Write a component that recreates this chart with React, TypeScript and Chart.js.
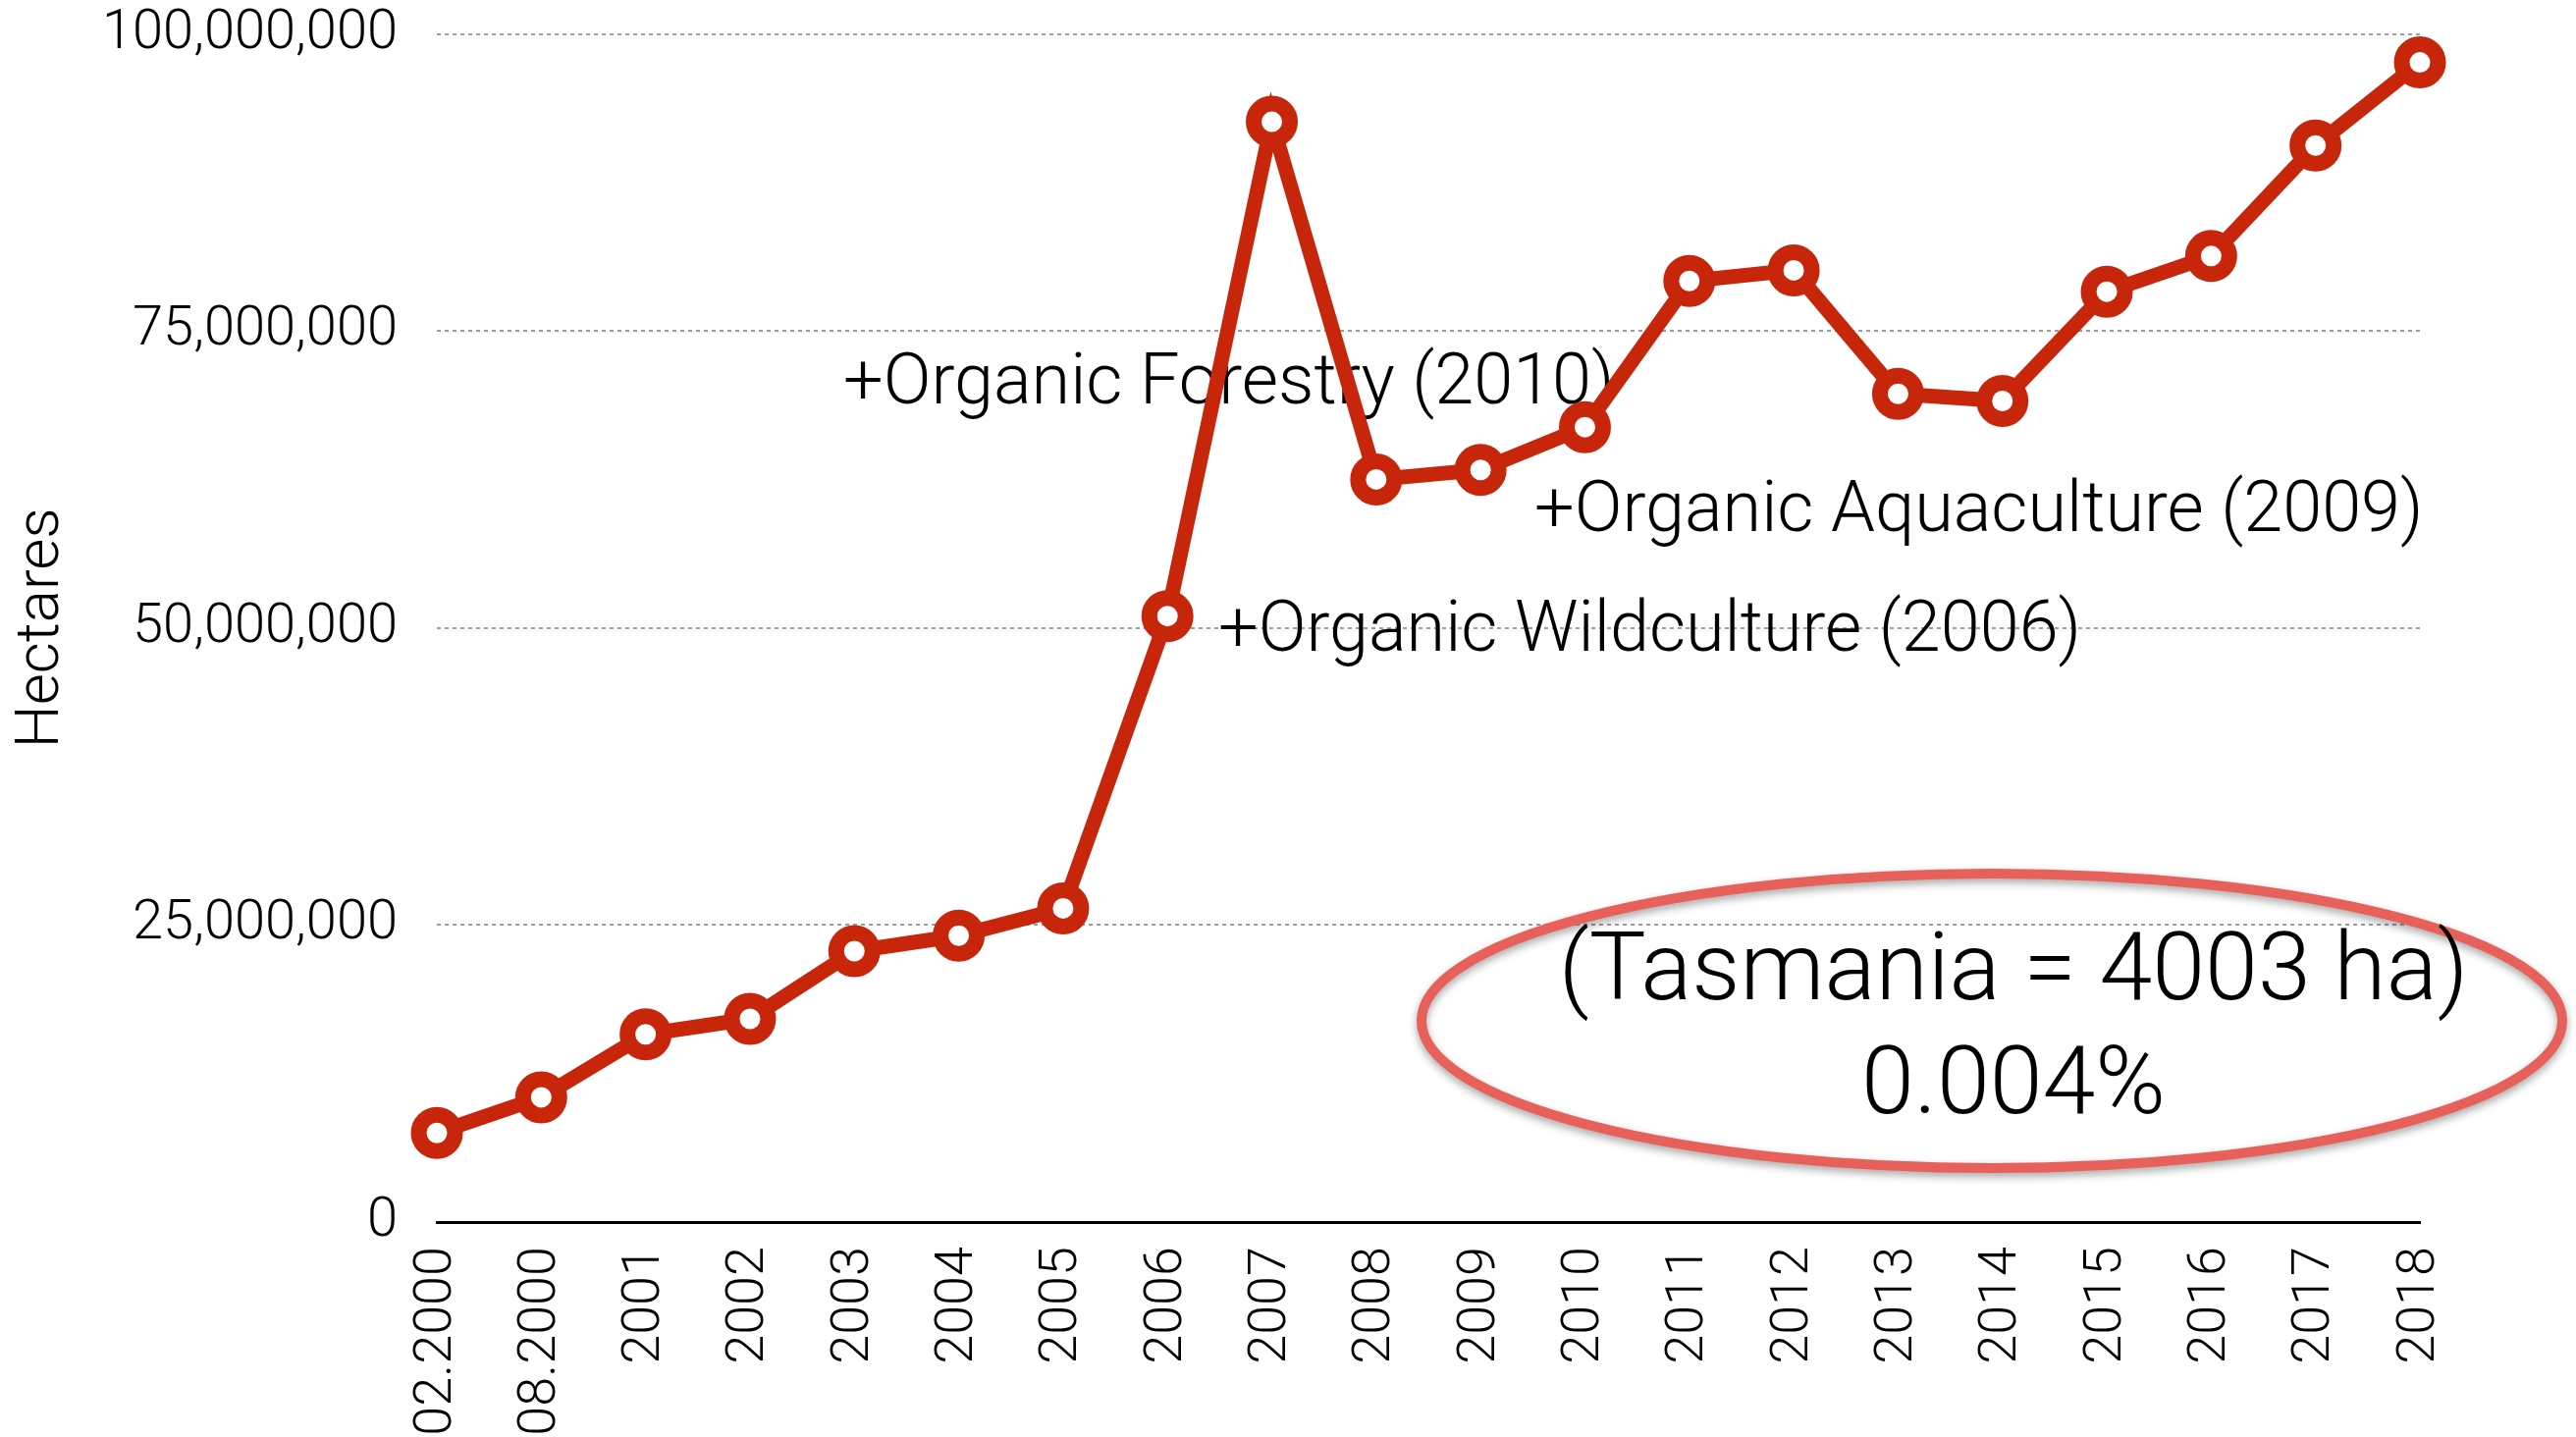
import React, { useEffect, useRef } from "react";
import { Chart, registerables } from "chart.js";

Chart.register(...registerables);

const categories = [
  "02.2000", "08.2000", "2001", "2002", "2003", "2004", "2005", "2006", "2007", "2008",
  "2009", "2010", "2011", "2012", "2013", "2014", "2015", "2016", "2017", "2018",
];
const hectares = [
  7500000, 10500000, 15800000, 17100000, 22800000, 24100000, 26400000, 51000000, 92600000, 62500000,
  63300000, 66900000, 79200000, 80100000, 69700000, 69100000, 78300000, 81300000, 90600000, 97600000,
];
const yTickValues = [0, 25000000, 50000000, 75000000, 100000000];
const yAxisTitle = "Hectares";
const annotationTexts = [
  "+Organic Forestry (2010)",
  "+Organic Aquaculture (2009)",
  "+Organic Wildculture (2006)",
];
const calloutLines = ["(Tasmania = 4003 ha)", "0.004%"];

const FONT = "Roboto, 'Liberation Sans', Arial, sans-serif";
const LINE_RED = "#C8260A";
const ELLIPSE_RED = "#E8605A";

export default function App() {
  const ref = useRef<HTMLCanvasElement | null>(null);

  useEffect(() => {
    document.body.style.margin = "0";
    const canvas = ref.current;
    if (!canvas) return;

    const annotationPlugin = {
      id: "annotations",
      beforeDatasetsDraw(chart: any) {
        const ctx = chart.ctx;
        ctx.save();
        ctx.font = `300 72px ${FONT}`;
        ctx.fillStyle = "#000";
        ctx.textAlign = "left";
        ctx.textBaseline = "alphabetic";
        ctx.fillText(annotationTexts[0], 859, 411);
        ctx.fillText(annotationTexts[1], 1563, 541);
        ctx.fillText(annotationTexts[2], 1241, 663);
        ctx.restore();
      },
      afterDraw(chart: any) {
        const ctx = chart.ctx;
        ctx.save();
        ctx.beginPath();
        ctx.ellipse(2029, 1040, 581, 150, 0, 0, Math.PI * 2);
        ctx.shadowColor = "rgba(0,0,0,0.35)";
        ctx.shadowBlur = 8;
        ctx.shadowOffsetY = 4;
        ctx.strokeStyle = ELLIPSE_RED;
        ctx.lineWidth = 10;
        ctx.stroke();
        ctx.restore();

        ctx.save();
        ctx.font = `300 97px ${FONT}`;
        ctx.fillStyle = "#000";
        ctx.textAlign = "center";
        ctx.textBaseline = "alphabetic";
        ctx.fillText(calloutLines[0], 2051, 1018);
        ctx.fillText(calloutLines[1], 2051, 1134);
        ctx.restore();
      },
    };

    const chart = new Chart(canvas, {
      type: "line",
      data: {
        labels: categories,
        datasets: [
          {
            data: hectares,
            borderColor: LINE_RED,
            borderWidth: 15,
            pointRadius: 18.5,
            pointHoverRadius: 18.5,
            pointBorderWidth: 16,
            pointBorderColor: LINE_RED,
            pointBackgroundColor: "#ffffff",
            tension: 0,
            fill: false,
            clip: false,
          },
        ],
      },
      options: {
        responsive: false,
        maintainAspectRatio: false,
        animation: false,
        devicePixelRatio: 1,
        layout: { padding: { top: 33.5, right: 159, left: 0, bottom: 0 } },
        plugins: {
          legend: { display: false },
          tooltip: { enabled: false },
          title: { display: false },
        },
        scales: {
          x: {
            type: "category",
            offset: false,
            grid: { display: false, drawTicks: false },
            border: { display: true, color: "#000", width: 3 },
            ticks: {
              autoSkip: false,
              minRotation: 90,
              maxRotation: 90,
              padding: 25,
              color: "#000",
              font: { family: FONT, size: 54, weight: "300" },
            },
            afterFit(scale: any) {
              scale.height = 219;
              scale.paddingLeft = 0;
              scale.paddingRight = 0;
            },
          },
          y: {
            min: 0,
            max: 100000000,
            grid: {
              drawTicks: false,
              lineWidth: 2,
              color: (c: any) => (c.tick && c.tick.value === 0 ? "rgba(0,0,0,0)" : "#9c9c9c"),
            },
            border: { display: false, dash: [4, 4] },
            ticks: {
              padding: 40,
              color: "#000",
              font: { family: FONT, size: 56, weight: "300" },
              callback: (v: any) => Number(v).toLocaleString("en-US"),
            },
            afterBuildTicks(scale: any) {
              scale.ticks = yTickValues.map((v) => ({ value: v }));
            },
            afterFit(scale: any) {
              scale.width = 445;
              scale.paddingTop = 0;
              scale.paddingBottom = 0;
            },
            title: {
              display: true,
              text: yAxisTitle,
              color: "#000",
              padding: { top: 6, bottom: 0 },
              font: { family: FONT, size: 62, weight: "300" },
            },
          },
        },
      },
      plugins: [annotationPlugin],
    });

    return () => chart.destroy();
  }, []);

  return (
    <div style={{ position: "absolute", left: 0, top: 0, width: 2624, height: 1464, background: "#fff" }}>
      <canvas ref={ref} width={2624} height={1464} style={{ width: 2624, height: 1464, display: "block" }} />
    </div>
  );
}
